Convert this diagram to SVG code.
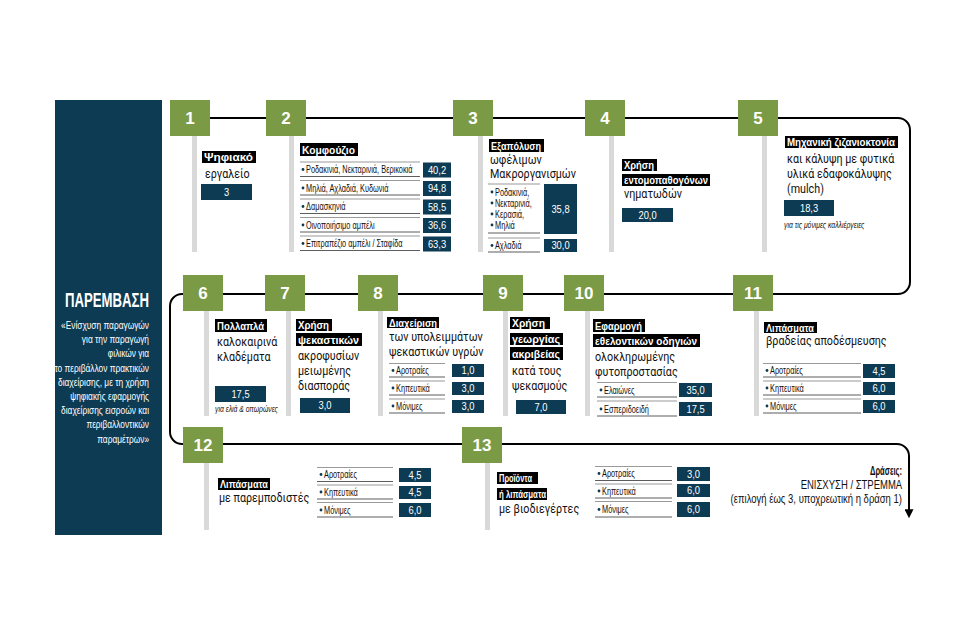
<svg xmlns="http://www.w3.org/2000/svg" width="960" height="620" viewBox="0 0 960 620">
<style>
.bg{fill:#ffffff}
.panel{fill:#0c3b53}
.sq{fill:#7b9a45}
.bar{fill:#d9d9d9}
.blk{fill:#000}
.vbox{fill:#0c3b53}
text{transform-box:fill-box}
.num{font-family:"Liberation Sans",Arial,sans-serif;font-weight:bold;font-size:17px;fill:#fff;text-anchor:middle}
.lbl{font-family:"Liberation Sans",Arial,sans-serif;font-weight:bold;font-size:11.5px;fill:#fff}
.body{font-family:Roboto,"Liberation Sans",sans-serif;font-size:12.5px;fill:#111;transform-origin:0% 50%;transform:scaleX(0.86)}
.tbl{font-family:"Liberation Sans",Arial,sans-serif;font-size:11px;fill:#111;transform-origin:0% 50%;transform:scaleX(0.67)}
.dot{fill:#0c3b53}
.val{font-family:"Liberation Sans",Arial,sans-serif;font-size:11px;fill:#fff;text-anchor:middle;transform-origin:50% 50%;transform:scaleX(0.85)}
.note{font-family:"Liberation Sans",Arial,sans-serif;font-style:italic;font-size:8.5px;fill:#111;transform-origin:0% 50%;transform:scaleX(0.8)}
.ptitle{font-family:"Liberation Sans",Arial,sans-serif;font-weight:bold;font-size:20px;fill:#fff}
.pq{font-family:"Liberation Sans",Arial,sans-serif;font-size:11px;fill:#fff;text-anchor:end;transform-origin:100% 50%;transform:scaleX(0.76)}
.act{font-family:"Liberation Sans",Arial,sans-serif;font-size:12.5px;fill:#111;text-anchor:end;transform-origin:100% 50%;transform:scaleX(0.76)}
.acth{font-family:"Liberation Sans",Arial,sans-serif;font-size:13.5px;font-weight:bold;fill:#111}
.lg{stroke:#9a9a9a;stroke-width:1.2}
.ld{stroke:#333;stroke-width:0.8}
.flow{fill:none;stroke:#000;stroke-width:2}
</style>
<defs>
<marker id="arr" viewBox="0 0 10 10" refX="2" refY="5" markerWidth="9" markerHeight="9" orient="auto" markerUnits="userSpaceOnUse">
<path d="M0,0 L10,5 L0,10 z" fill="#000"/>
</marker>
</defs>
<rect class="bg" x="0" y="0" width="960" height="620"/>

<g id="panel">
<rect class="panel" x="55" y="100" width="107" height="435"/>
<text class="ptitle" x="65" y="307" textLength="84" lengthAdjust="spacingAndGlyphs">ΠΑΡΕΜΒΑΣΗ</text>
<text class="pq" x="149" y="329">«Ενίσχυση παραγωγών</text>
<text class="pq" x="149" y="343">για την παραγωγή</text>
<text class="pq" x="149" y="357">φιλικών για</text>
<text class="pq" x="149" y="372">το περιβάλλον πρακτικών</text>
<text class="pq" x="149" y="386">διαχείρισης, με τη χρήση</text>
<text class="pq" x="149" y="400">ψηφιακής εφαρμογής</text>
<text class="pq" x="149" y="414">διαχείρισης εισροών και</text>
<text class="pq" x="149" y="428">περιβαλλοντικών</text>
<text class="pq" x="149" y="443">παραμέτρων»</text>
</g>

<g id="connectors">
<path class="flow" d="M190,118 H898 A12,12 0 0 1 910,130 V282 A12,12 0 0 1 898,294 H182 A12,12 0 0 0 170,306 V432 A12,12 0 0 0 182,444 H897 A12,12 0 0 1 909,456 V511" marker-end="url(#arr)"/>
</g>

<g id="step1">
<rect class="sq" x="170" y="100" width="40" height="36"/>
<text class="num" x="190" y="124">1</text>
<rect class="bar" x="192" y="136" width="5" height="116"/>
<rect class="blk" x="202" y="151" width="54" height="12"/>
<text class="lbl" x="204" y="161" textLength="49" lengthAdjust="spacingAndGlyphs">Ψηφιακό</text>
<text class="body" x="205" y="178">εργαλείο</text>
<rect class="vbox" x="201" y="184" width="51" height="16"/>
<text class="val" x="226.5" y="196">3</text>
</g>

<g id="step2">
<rect class="sq" x="266" y="100" width="40" height="36"/>
<text class="num" x="286" y="124">2</text>
<rect class="bar" x="289" y="136" width="5" height="116"/>
<rect class="blk" x="300" y="143" width="58" height="13"/>
<text class="lbl" x="302" y="153.5" textLength="53" lengthAdjust="spacingAndGlyphs">Κομφούζιο</text>
<line class="lg" x1="300" y1="162" x2="420" y2="162"/><line class="ld" x1="300" y1="176.5" x2="420" y2="176.5"/>
<line class="lg" x1="300" y1="180.5" x2="420" y2="180.5"/><line class="ld" x1="300" y1="195" x2="420" y2="195"/>
<line class="lg" x1="300" y1="199" x2="420" y2="199"/><line class="ld" x1="300" y1="213.5" x2="420" y2="213.5"/>
<line class="lg" x1="300" y1="217.5" x2="420" y2="217.5"/><line class="ld" x1="300" y1="232" x2="420" y2="232"/>
<line class="lg" x1="300" y1="236" x2="420" y2="236"/><line class="ld" x1="300" y1="250.5" x2="420" y2="250.5"/>
<circle class="dot" cx="303" cy="169.5" r="1.4"/><text class="tbl" x="306" y="173.5">Ροδακινιά, Νεκταρινιά, Βερικοκιά</text>
<circle class="dot" cx="303" cy="188" r="1.4"/><text class="tbl" x="306" y="192">Μηλιά, Αχλαδιά, Κυδωνιά</text>
<circle class="dot" cx="303" cy="206.5" r="1.4"/><text class="tbl" x="306" y="210.5">Δαμασκηνιά</text>
<circle class="dot" cx="303" cy="225" r="1.4"/><text class="tbl" x="306" y="229">Οινοποιήσιμο αμπέλι</text>
<circle class="dot" cx="303" cy="243.5" r="1.4"/><text class="tbl" x="306" y="247.5">Επιτραπέζιο αμπέλι / Σταφίδα</text>
<rect class="vbox" x="423" y="162.5" width="28" height="15"/><text class="val" x="437" y="174">40,2</text>
<rect class="vbox" x="423" y="181" width="28" height="15"/><text class="val" x="437" y="192.5">94,8</text>
<rect class="vbox" x="423" y="199.5" width="28" height="15"/><text class="val" x="437" y="211">58,5</text>
<rect class="vbox" x="423" y="218" width="28" height="15"/><text class="val" x="437" y="229.5">36,6</text>
<rect class="vbox" x="423" y="236.5" width="28" height="15"/><text class="val" x="437" y="248">63,3</text>
</g>

<g id="step3">
<rect class="sq" x="453" y="100" width="40" height="36"/>
<text class="num" x="473" y="124">3</text>
<rect class="bar" x="478" y="136" width="5" height="116"/>
<rect class="blk" x="489" y="139" width="55" height="13"/>
<text class="lbl" x="491" y="149.5" textLength="50" lengthAdjust="spacingAndGlyphs">Εξαπόλυση</text>
<text class="body" x="490" y="164">ωφέλιμων</text>
<text class="body" x="490" y="178">Μακροργανισμών</text>
<line class="lg" x1="488" y1="184" x2="540" y2="184"/><line class="ld" x1="488" y1="233" x2="540" y2="233"/>
<line class="lg" x1="488" y1="238" x2="540" y2="238"/><line class="ld" x1="488" y1="252" x2="540" y2="252"/>
<circle class="dot" cx="492" cy="192" r="1.4"/><text class="tbl" x="495" y="196">Ροδακινιά,</text>
<circle class="dot" cx="492" cy="203" r="1.4"/><text class="tbl" x="495" y="207">Νεκταρινιά,</text>
<circle class="dot" cx="492" cy="214" r="1.4"/><text class="tbl" x="495" y="218">Κερασιά,</text>
<circle class="dot" cx="492" cy="225" r="1.4"/><text class="tbl" x="495" y="229">Μηλιά</text>
<circle class="dot" cx="492" cy="245.5" r="1.4"/><text class="tbl" x="495" y="249.5">Αχλαδιά</text>
<rect class="vbox" x="544" y="184" width="33" height="50"/><text class="val" x="560.5" y="213">35,8</text>
<rect class="vbox" x="544" y="239" width="33" height="13"/><text class="val" x="560.5" y="249.5">30,0</text>
</g>

<g id="step4">
<rect class="sq" x="585" y="100" width="40" height="36"/>
<text class="num" x="605" y="124">4</text>
<rect class="bar" x="609" y="136" width="5" height="116"/>
<rect class="blk" x="622" y="159" width="35" height="12"/>
<text class="lbl" x="624" y="169" textLength="30" lengthAdjust="spacingAndGlyphs">Χρήση</text>
<rect class="blk" x="622" y="174" width="88" height="12"/>
<text class="lbl" x="624" y="184" textLength="84" lengthAdjust="spacingAndGlyphs">εντομοπαθογόνων</text>
<text class="body" x="624" y="198">νηματωδών</text>
<rect class="vbox" x="622" y="208" width="51" height="14"/>
<text class="val" x="647.5" y="219">20,0</text>
</g>

<g id="step5">
<rect class="sq" x="738" y="100" width="40" height="36"/>
<text class="num" x="758" y="124">5</text>
<rect class="bar" x="762" y="136" width="5" height="116"/>
<rect class="blk" x="785" y="136" width="113" height="12"/>
<text class="lbl" x="787" y="146" textLength="108" lengthAdjust="spacingAndGlyphs">Μηχανική ζιζανιοκτονία</text>
<text class="body" x="787" y="163">και κάλυψη με φυτικά</text>
<text class="body" x="787" y="178">υλικά εδαφοκάλυψης</text>
<text class="body" x="787" y="193">(mulch)</text>
<rect class="vbox" x="784" y="200" width="50" height="16"/>
<text class="val" x="809" y="212">18,3</text>
<text class="note" x="784" y="228">για τις μόνιμες καλλιέργειες</text>
</g>

<g id="step6">
<rect class="sq" x="183" y="275" width="40" height="36"/>
<text class="num" x="203" y="299">6</text>
<rect class="bar" x="204" y="311" width="5" height="105"/>
<rect class="blk" x="215" y="319" width="52" height="13"/>
<text class="lbl" x="217" y="329.5" textLength="47" lengthAdjust="spacingAndGlyphs">Πολλαπλά</text>
<text class="body" x="217" y="346">καλοκαιρινά</text>
<text class="body" x="217" y="361">κλαδέματα</text>
<rect class="vbox" x="215" y="386" width="51" height="16"/>
<text class="val" x="240.5" y="398">17,5</text>
<text class="note" x="215" y="412">για ελιά &amp; οπωρώνες</text>
</g>

<g id="step7">
<rect class="sq" x="265" y="275" width="40" height="36"/>
<text class="num" x="285" y="299">7</text>
<rect class="bar" x="286" y="311" width="5" height="105"/>
<rect class="blk" x="296" y="319" width="36" height="12"/>
<text class="lbl" x="298" y="329" textLength="31" lengthAdjust="spacingAndGlyphs">Χρήση</text>
<rect class="blk" x="296" y="333" width="66" height="13"/>
<text class="lbl" x="298" y="343.5" textLength="61" lengthAdjust="spacingAndGlyphs">ψεκαστικών</text>
<text class="body" x="298" y="360">ακροφυσίων</text>
<text class="body" x="298" y="375">μειωμένης</text>
<text class="body" x="298" y="390">διασποράς</text>
<rect class="vbox" x="300" y="398" width="50" height="15"/>
<text class="val" x="325" y="409.5">3,0</text>
</g>

<g id="step8">
<rect class="sq" x="358" y="275" width="40" height="36"/>
<text class="num" x="378" y="299">8</text>
<rect class="bar" x="378" y="311" width="5" height="105"/>
<rect class="blk" x="387" y="317" width="52" height="11"/>
<text class="lbl" x="389" y="326.5" textLength="48" lengthAdjust="spacingAndGlyphs">Διαχείριση</text>
<text class="body" x="389" y="341">των υπολειμμάτων</text>
<text class="body" x="389" y="356">ψεκαστικών υγρών</text>
<line class="lg" x1="389" y1="363.5" x2="445" y2="363.5"/><line class="ld" x1="389" y1="377" x2="445" y2="377"/>
<line class="lg" x1="389" y1="381" x2="445" y2="381"/><line class="ld" x1="389" y1="395" x2="445" y2="395"/>
<line class="lg" x1="389" y1="399" x2="445" y2="399"/><line class="ld" x1="389" y1="413" x2="445" y2="413"/>
<circle class="dot" cx="393" cy="370.5" r="1.4"/><text class="tbl" x="396" y="374.5">Αροτραίες</text>
<circle class="dot" cx="393" cy="388" r="1.4"/><text class="tbl" x="396" y="392">Κηπευτικά</text>
<circle class="dot" cx="393" cy="406" r="1.4"/><text class="tbl" x="396" y="410">Μόνιμες</text>
<rect class="vbox" x="452" y="364" width="32" height="13"/><text class="val" x="468" y="374.5">1,0</text>
<rect class="vbox" x="452" y="382" width="32" height="13"/><text class="val" x="468" y="392.5">3,0</text>
<rect class="vbox" x="452" y="400" width="32" height="13"/><text class="val" x="468" y="410.5">3,0</text>
</g>

<g id="step9">
<rect class="sq" x="483" y="275" width="40" height="36"/>
<text class="num" x="503" y="299">9</text>
<rect class="bar" x="503" y="311" width="5" height="105"/>
<rect class="blk" x="510" y="317" width="40" height="12"/>
<text class="lbl" x="512" y="327" textLength="33" lengthAdjust="spacingAndGlyphs">Χρήση</text>
<rect class="blk" x="510" y="333" width="53" height="12"/>
<text class="lbl" x="512" y="343" textLength="48" lengthAdjust="spacingAndGlyphs">γεωργίας</text>
<rect class="blk" x="510" y="347" width="53" height="13"/>
<text class="lbl" x="512" y="357.5" textLength="48" lengthAdjust="spacingAndGlyphs">ακριβείας</text>
<text class="body" x="512" y="375">κατά τους</text>
<text class="body" x="512" y="390">ψεκασμούς</text>
<rect class="vbox" x="516" y="400" width="50" height="14"/>
<text class="val" x="541" y="411">7,0</text>
</g>

<g id="step10">
<rect class="sq" x="564" y="275" width="40" height="36"/>
<text class="num" x="584" y="299">10</text>
<rect class="bar" x="585" y="311" width="5" height="105"/>
<rect class="blk" x="593" y="319" width="52" height="13"/>
<text class="lbl" x="595" y="329.5" textLength="47" lengthAdjust="spacingAndGlyphs">Εφαρμογή</text>
<rect class="blk" x="593" y="334" width="107" height="13"/>
<text class="lbl" x="595" y="344.5" textLength="102" lengthAdjust="spacingAndGlyphs">εθελοντικών οδηγιών</text>
<text class="body" x="595" y="361">ολοκληρωμένης</text>
<text class="body" x="595" y="376">φυτοπροστασίας</text>
<line class="lg" x1="597" y1="382.5" x2="677" y2="382.5"/><line class="ld" x1="597" y1="397" x2="677" y2="397"/>
<line class="lg" x1="597" y1="401" x2="677" y2="401"/><line class="ld" x1="597" y1="416" x2="677" y2="416"/>
<circle class="dot" cx="601" cy="390" r="1.4"/><text class="tbl" x="604" y="394">Ελαιώνες</text>
<circle class="dot" cx="601" cy="409" r="1.4"/><text class="tbl" x="604" y="413">Εσπεριδοειδή</text>
<rect class="vbox" x="679" y="383" width="33" height="14"/><text class="val" x="695.5" y="394">35,0</text>
<rect class="vbox" x="679" y="402" width="33" height="14"/><text class="val" x="695.5" y="413">17,5</text>
</g>

<g id="step11">
<rect class="sq" x="733" y="275" width="40" height="36"/>
<text class="num" x="753" y="299">11</text>
<rect class="bar" x="754" y="311" width="5" height="105"/>
<rect class="blk" x="764" y="322" width="53" height="11"/>
<text class="lbl" x="766" y="331.5" textLength="48" lengthAdjust="spacingAndGlyphs">Λιπάσματα</text>
<text class="body" x="766" y="345">βραδείας αποδέσμευσης</text>
<line class="lg" x1="763" y1="363.5" x2="861" y2="363.5"/><line class="ld" x1="763" y1="377" x2="861" y2="377"/>
<line class="lg" x1="763" y1="381" x2="861" y2="381"/><line class="ld" x1="763" y1="395" x2="861" y2="395"/>
<line class="lg" x1="763" y1="399" x2="861" y2="399"/><line class="ld" x1="763" y1="413" x2="861" y2="413"/>
<circle class="dot" cx="767" cy="370.5" r="1.4"/><text class="tbl" x="770" y="374.5">Αροτραίες</text>
<circle class="dot" cx="767" cy="388" r="1.4"/><text class="tbl" x="770" y="392">Κηπευτικά</text>
<circle class="dot" cx="767" cy="406" r="1.4"/><text class="tbl" x="770" y="410">Μόνιμες</text>
<rect class="vbox" x="863" y="364" width="32" height="14"/><text class="val" x="879" y="375">4,5</text>
<rect class="vbox" x="863" y="382" width="32" height="13"/><text class="val" x="879" y="392.5">6,0</text>
<rect class="vbox" x="863" y="400" width="32" height="13"/><text class="val" x="879" y="410.5">6,0</text>
</g>

<g id="step12">
<rect class="sq" x="183" y="427" width="40" height="36"/>
<text class="num" x="203" y="451">12</text>
<rect class="bar" x="204" y="463" width="5" height="67"/>
<rect class="blk" x="218" y="478" width="52" height="12"/>
<text class="lbl" x="220" y="488" textLength="48" lengthAdjust="spacingAndGlyphs">Λιπάσματα</text>
<text class="body" x="219" y="502">με παρεμποδιστές</text>
<line class="lg" x1="317" y1="467.5" x2="393" y2="467.5"/><line class="ld" x1="317" y1="481.5" x2="393" y2="481.5"/>
<line class="lg" x1="317" y1="485" x2="393" y2="485"/><line class="ld" x1="317" y1="499" x2="393" y2="499"/>
<line class="lg" x1="317" y1="502.5" x2="393" y2="502.5"/><line class="ld" x1="317" y1="517" x2="393" y2="517"/>
<circle class="dot" cx="321" cy="474.5" r="1.4"/><text class="tbl" x="324" y="478.5">Αροτραίες</text>
<circle class="dot" cx="321" cy="492" r="1.4"/><text class="tbl" x="324" y="496">Κηπευτικά</text>
<circle class="dot" cx="321" cy="510" r="1.4"/><text class="tbl" x="324" y="514">Μόνιμες</text>
<rect class="vbox" x="399" y="468" width="32" height="14"/><text class="val" x="415" y="479">4,5</text>
<rect class="vbox" x="399" y="486" width="32" height="13"/><text class="val" x="415" y="496.5">4,5</text>
<rect class="vbox" x="399" y="503" width="32" height="14"/><text class="val" x="415" y="514">6,0</text>
</g>

<g id="step13">
<rect class="sq" x="462" y="427" width="40" height="36"/>
<text class="num" x="482" y="451">13</text>
<rect class="bar" x="485" y="463" width="5" height="67"/>
<rect class="blk" x="497" y="472" width="41" height="12"/>
<text class="lbl" x="499" y="482" textLength="33" lengthAdjust="spacingAndGlyphs">Προϊόντα</text>
<rect class="blk" x="497" y="488" width="50" height="12"/>
<text class="lbl" x="499" y="498" textLength="47" lengthAdjust="spacingAndGlyphs">ή λιπάσματα</text>
<text class="body" x="499" y="513">με βιοδιεγέρτες</text>
<line class="lg" x1="595" y1="466.5" x2="672" y2="466.5"/><line class="ld" x1="595" y1="480.5" x2="672" y2="480.5"/>
<line class="lg" x1="595" y1="484" x2="672" y2="484"/><line class="ld" x1="595" y1="498" x2="672" y2="498"/>
<line class="lg" x1="595" y1="501.5" x2="672" y2="501.5"/><line class="ld" x1="595" y1="517" x2="672" y2="517"/>
<circle class="dot" cx="599" cy="473.5" r="1.4"/><text class="tbl" x="602" y="477.5">Αροτραίες</text>
<circle class="dot" cx="599" cy="491" r="1.4"/><text class="tbl" x="602" y="495">Κηπευτικά</text>
<circle class="dot" cx="599" cy="509.5" r="1.4"/><text class="tbl" x="602" y="513.5">Μόνιμες</text>
<rect class="vbox" x="677" y="467" width="33" height="14"/><text class="val" x="693.5" y="478">3,0</text>
<rect class="vbox" x="677" y="484" width="33" height="13"/><text class="val" x="693.5" y="494.5">6,0</text>
<rect class="vbox" x="677" y="502" width="33" height="15"/><text class="val" x="693.5" y="513.5">6,0</text>
</g>

<g id="actions">
<text class="acth" x="870" y="474.5" textLength="32" lengthAdjust="spacingAndGlyphs">Δράσεις:</text>
<text class="act" x="902" y="489">ΕΝΙΣΧΥΣΗ / ΣΤΡΕΜΜΑ</text>
<text class="act" x="902" y="503">(επιλογή έως 3, υποχρεωτική η δράση 1)</text>
</g>
</svg>
